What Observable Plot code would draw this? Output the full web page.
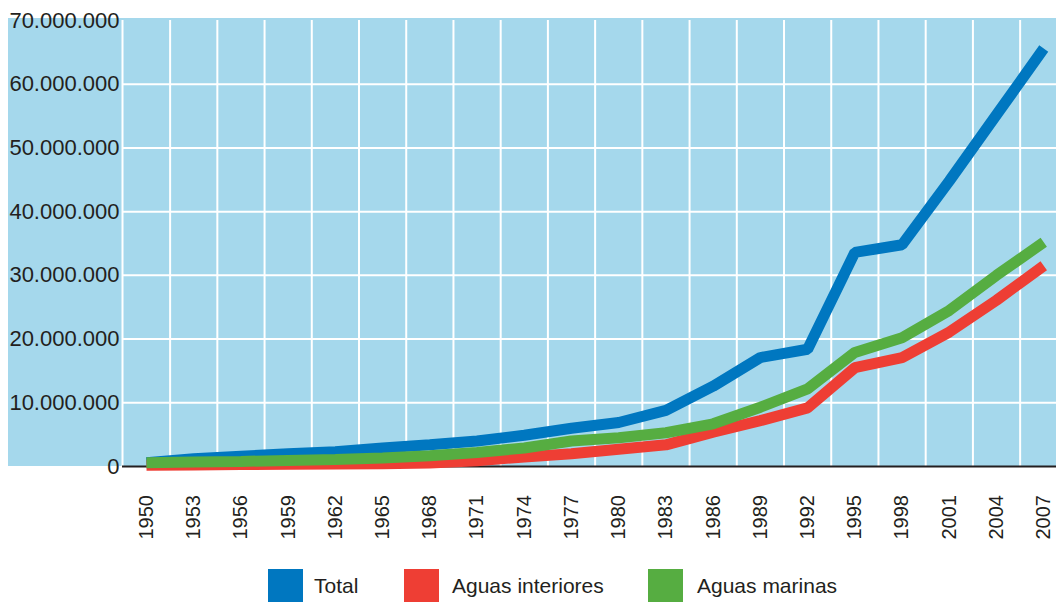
<!DOCTYPE html>
<html>
<head>
<meta charset="utf-8">
<script src="https://cdn.jsdelivr.net/npm/d3@7"></script>
<script src="https://cdn.jsdelivr.net/npm/@observablehq/plot@0.6"></script>
<style>
  body { margin: 0; background: #fff; font-family: "Liberation Sans", Arial, sans-serif; }
  #wrap { position: relative; width: 1056px; height: 602px; overflow: hidden; }
  #bg { position: absolute; left: 8px; top: 18px; width: 1048px; height: 448px; background: #a5d8ec; }
  #chart { position: absolute; left: 0; top: 0; }
  #legend { position: absolute; left: 0; top: 569px; width: 1056px; height: 34px; }
  .sw { position: absolute; top: 0; width: 35px; height: 34px; }
  .lb { position: absolute; top: 4px; font-size: 21px; color: #231f20; line-height: 26px; }
</style>
</head>
<body>
<div id="wrap">
  <div id="bg"></div>
  <div id="chart"></div>
  <div id="legend"></div>
</div>
<script>
const years = [1950,1953,1956,1959,1962,1965,1968,1971,1974,1977,1980,1983,1986,1989,1992,1995,1998,2001,2004,2007];
const total    = [0.6,1.2,1.6,2.0,2.3,2.9,3.4,4.0,4.9,6.0,6.9,8.8,12.6,17.1,18.4,33.6,34.8,44.8,55.2,65.6];
const interior = [0.2,0.25,0.3,0.35,0.4,0.45,0.55,0.9,1.5,2.0,2.7,3.4,5.4,7.2,9.2,15.5,17.1,21.1,26.1,31.5];
const marinas  = [0.6,0.7,0.8,0.95,1.1,1.35,1.7,2.2,2.9,4.0,4.5,5.3,6.7,9.3,12.2,17.9,20.2,24.5,30.0,35.2];
const seriesNames = ["Total","Aguas interiores","Aguas marinas"];
const seriesColors = ["#0077c0","#ee3e34","#56ad41"];
const yTicks = [0,10e6,20e6,30e6,40e6,50e6,60e6,70e6];
const gridYears = d3.range(1951.5, 2006, 3);

const rows = [];
[total, interior, marinas].forEach((arr, s) => {
  arr.forEach((v, i) => rows.push({series: seriesNames[s], year: years[i], value: v * 1e6}));
});

const xDomain = [1948.475, 2007.81];
const fmt = d => d3.format(",")(d).replace(/,/g, ".");

const chart = Plot.plot({
  width: 1056,
  height: 562,
  marginLeft: 122,
  marginRight: 0,
  marginTop: 20,
  marginBottom: 96,
  style: {background: "transparent", fontFamily: "Liberation Sans, Arial, sans-serif", fontSize: "20px", color: "#231f20", overflow: "visible"},
  x: {domain: xDomain},
  y: {domain: [0, 70e6]},
  color: {domain: seriesNames, range: seriesColors},
  marks: [
    Plot.ruleX(gridYears, {stroke: "white", strokeWidth: 2}),
    Plot.ruleX([xDomain[0]], {stroke: "white", strokeWidth: 2}),
    Plot.ruleY(yTicks.slice(1, -1), {stroke: "white", strokeWidth: 2}),
    Plot.axisY({ticks: yTicks, tickFormat: fmt, tickSize: 0, tickPadding: 3, fontSize: 22, fill: "#231f20", label: null}),
    Plot.axisX({ticks: years, tickFormat: d => String(d), tickSize: 0, tickRotate: -90, tickPadding: 28.5, fontSize: 20, fill: "#231f20", label: null}),
    Plot.ruleY([0], {stroke: "#231f20", strokeWidth: 2}),
    Plot.line(rows, {x: "year", y: "value", z: "series", stroke: "series", strokeWidth: 11, strokeLinecap: "butt", strokeLinejoin: "miter"})
  ]
});
document.getElementById("chart").appendChild(chart);

const legendPos = [[268, 314], [404, 452], [648, 697]];
const legend = document.getElementById("legend");
seriesNames.forEach((name, i) => {
  const sw = document.createElement("div");
  sw.className = "sw";
  sw.style.left = legendPos[i][0] + "px";
  sw.style.background = seriesColors[i];
  legend.appendChild(sw);
  const lb = document.createElement("div");
  lb.className = "lb";
  lb.style.left = legendPos[i][1] + "px";
  lb.textContent = name;
  legend.appendChild(lb);
});
</script>
</body>
</html>
